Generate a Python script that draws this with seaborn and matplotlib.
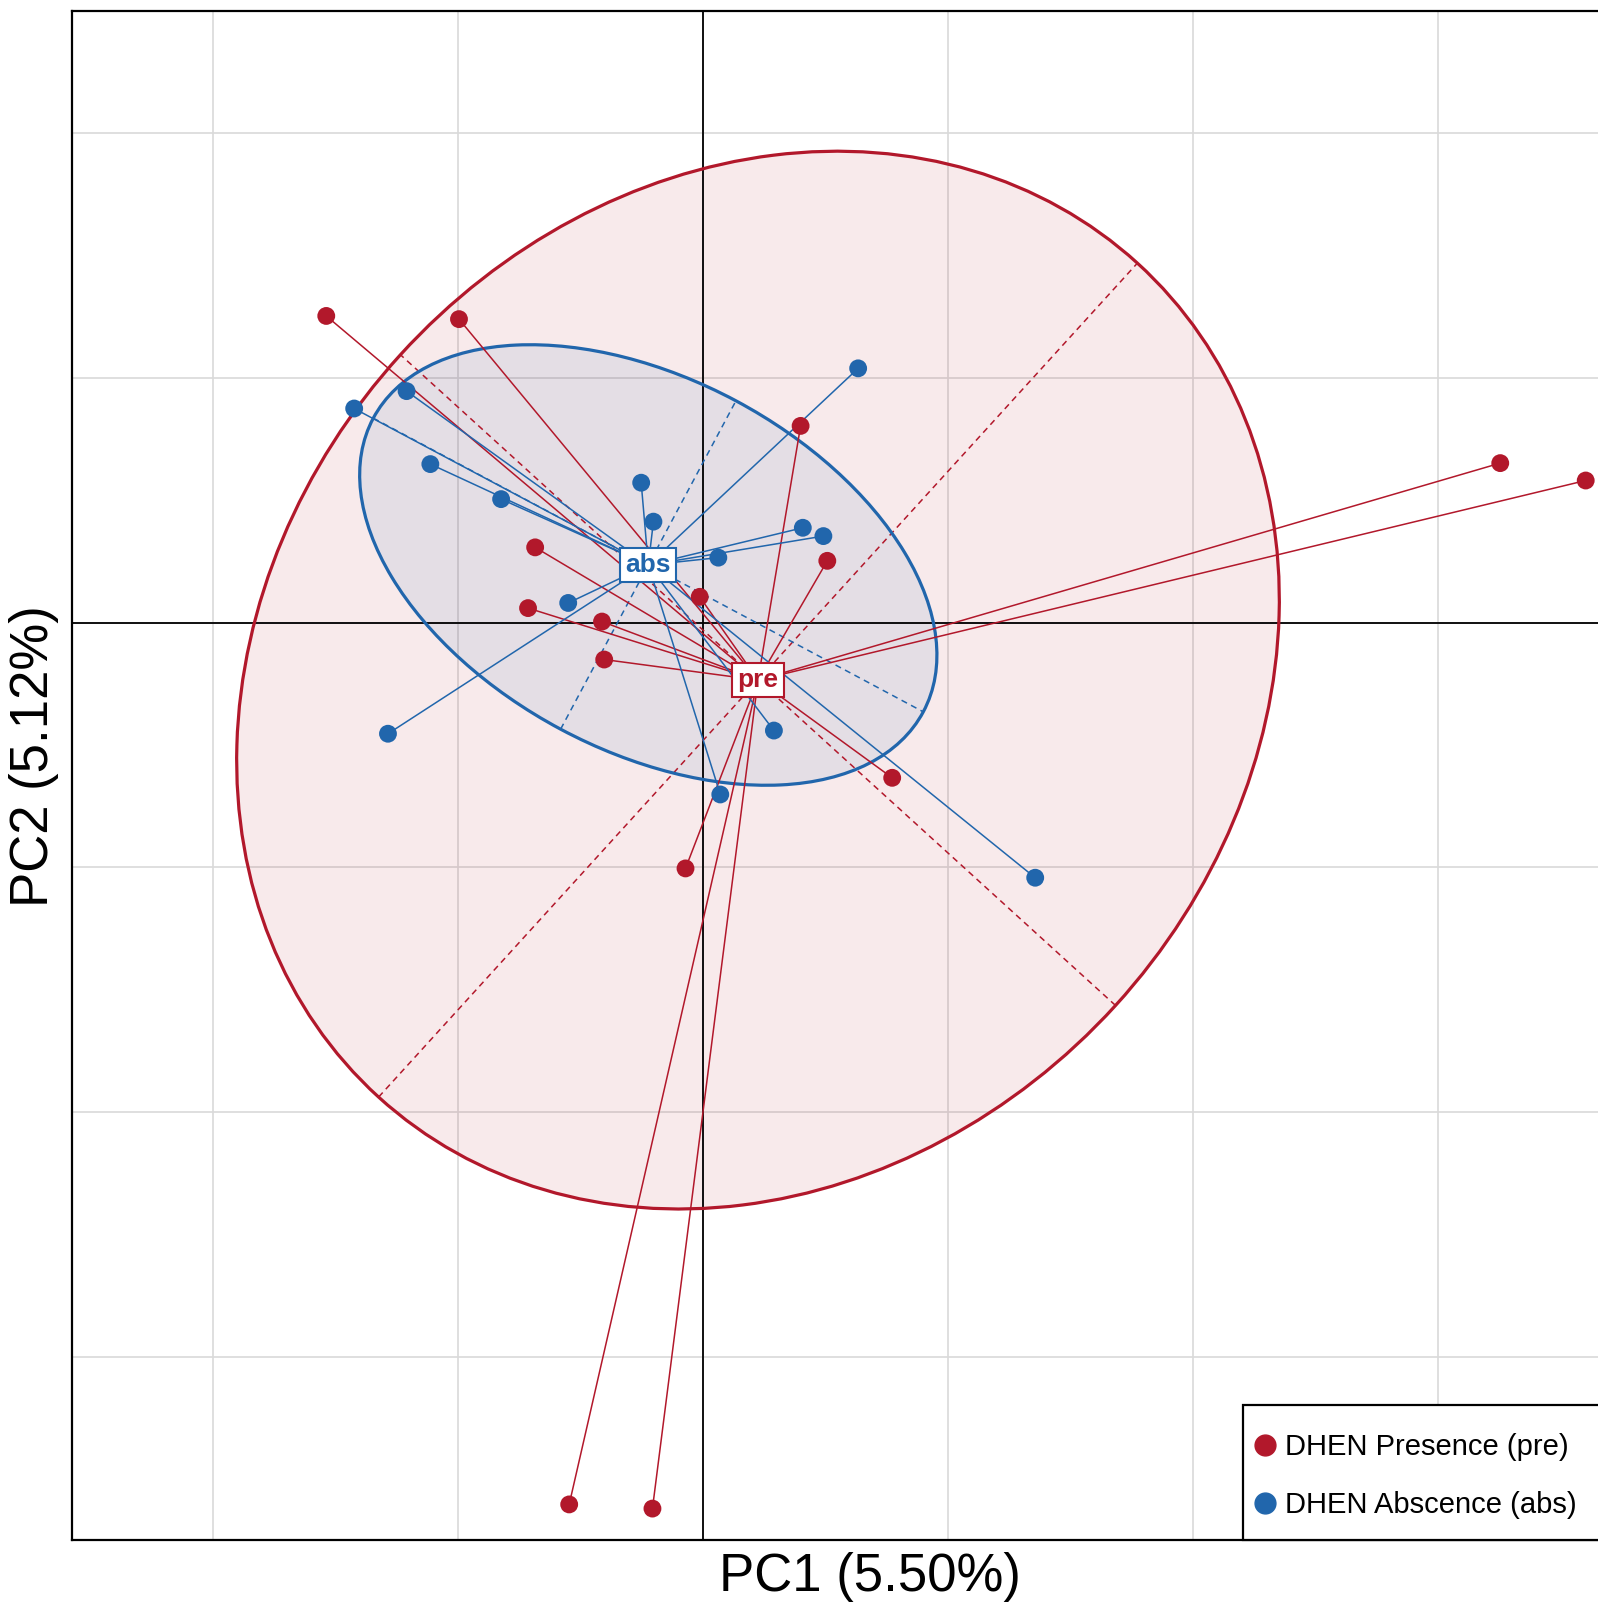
import numpy as np
import pandas as pd
import seaborn as sns
import matplotlib
matplotlib.use("Agg")
import matplotlib.pyplot as plt
from matplotlib.patches import Ellipse, Rectangle
from matplotlib.lines import Line2D

# PCA scores (grid step = 1 unit)
pre_pc1 = [-1.538, -0.996, 0.399, 3.256, 3.605, -0.685, 0.508, -0.013, -0.714, -0.412, -0.403, 0.773, -0.071, -0.546, -0.206]
pre_pc2 = [1.252, 1.239, 0.803, 0.651, 0.580, 0.307, 0.252, 0.105, 0.059, 0.004, -0.151, -0.634, -1.004, -3.601, -3.618]
abs_pc1 = [0.634, -1.210, -1.424, -1.113, -0.824, -0.252, -0.202, 0.408, 0.492, 0.063, -0.550, -1.286, 0.290, 0.071, 1.357]
abs_pc2 = [1.038, 0.945, 0.874, 0.647, 0.504, 0.571, 0.412, 0.387, 0.353, 0.265, 0.080, -0.454, -0.441, -0.702, -1.042]

groups = ["pre", "abs"]
group_labels = ["DHEN Presence (pre)", "DHEN Abscence (abs)"]
centroids = {"pre": (0.225, -0.235), "abs": (-0.223, 0.235)}
# ellipse: semi-major, semi-minor, angle (deg)
ellipses = {"pre": (2.302, 1.974, 47.7), "abs": (1.273, 0.760, -28.1)}
colores = {"pre": "#B2182B", "abs": "#2166AC"}

df = pd.DataFrame({
    "PC1": pre_pc1 + abs_pc1,
    "PC2": pre_pc2 + abs_pc2,
    "group": ["pre"] * len(pre_pc1) + ["abs"] * len(abs_pc1),
})

sns.set_theme(style="white")
plt.rcParams["font.family"] = ["Liberation Sans", "DejaVu Sans"]
plt.rcParams["text.color"] = "black"
plt.rcParams["axes.labelcolor"] = "black"

fig = plt.figure(figsize=(15.98, 16.13), dpi=100)
ax = fig.add_axes([0.0451, 0.0450, 0.9987, 0.9480])

# elipses (fill first, then edges + dashed axes)
for g in groups:
    cx, cy = centroids[g]
    a, b, ang = ellipses[g]
    ax.add_patch(Ellipse((cx, cy), 2 * a, 2 * b, angle=ang, facecolor=colores[g],
                         alpha=0.09, edgecolor="none", zorder=1))
for g in groups:
    cx, cy = centroids[g]
    a, b, ang = ellipses[g]
    ax.add_patch(Ellipse((cx, cy), 2 * a, 2 * b, angle=ang, facecolor="none",
                         edgecolor=colores[g], lw=2.3, zorder=3))
    t = np.deg2rad(ang)
    ax.plot([cx - a * np.cos(t), cx + a * np.cos(t)], [cy - a * np.sin(t), cy + a * np.sin(t)],
            color=colores[g], lw=1.1, ls=(0, (4, 3)), zorder=3)
    ax.plot([cx + b * np.sin(t), cx - b * np.sin(t)], [cy - b * np.cos(t), cy + b * np.cos(t)],
            color=colores[g], lw=1.1, ls=(0, (4, 3)), zorder=3)

# lineas al centroide
for _, row in df.iterrows():
    cx, cy = centroids[row["group"]]
    ax.plot([row["PC1"], cx], [row["PC2"], cy], color=colores[row["group"]], lw=1.1, zorder=4)

sns.scatterplot(data=df, x="PC1", y="PC2", hue="group", palette=colores, s=165,
                edgecolor="none", legend=False, ax=ax, zorder=5)

for g in groups:
    cx, cy = centroids[g]
    ax.text(cx, cy, g, color=colores[g], fontsize=19, fontweight="bold", ha="center", va="center",
            zorder=6, bbox=dict(boxstyle="square,pad=0.2", facecolor="white", edgecolor=colores[g], lw=1.5))

ax.axhline(0, color="black", lw=1.3, zorder=2)
ax.axvline(0, color="black", lw=1.3, zorder=2)

ax.set_xlim(-2.576, 3.941)
ax.set_ylim(-3.748, 2.496)
ax.set_xticks([-2, -1, 0, 1, 2, 3])
ax.set_yticks([-3, -2, -1, 0, 1, 2])
ax.tick_params(length=0, labelbottom=False, labelleft=False)
ax.grid(True, color="#D9D9D9", lw=1.2, zorder=0)
ax.set_axisbelow(True)
for sp in ax.spines.values():
    sp.set_color("black")
    sp.set_linewidth(1.6)

ax.set_xlabel("PC1 (5.50%)", fontsize=38, va="center")
ax.set_ylabel("PC2 (5.12%)", fontsize=38, va="center")
ax.xaxis.set_label_coords(0.5, -0.024)
ax.yaxis.set_label_coords(-0.0238, 0.513)

# legend box (drawn in figure pixels, runs off the right edge like the original)
W, H = 1598, 1613
fig.patches.append(Rectangle((1243 / W, 73 / H), 400 / W, 135 / H, transform=fig.transFigure,
                             facecolor="white", edgecolor="black", lw=1.6, zorder=10))
handles = [Line2D([], [], ls="none", marker="o", markersize=15, color=colores[g]) for g in groups]
leg = fig.legend(handles, group_labels, loc="center left", bbox_to_anchor=(1256 / W, (H - 1476) / H),
                 fontsize=21, frameon=False, handlelength=0.6, handletextpad=0.4,
                 labelspacing=1.03, borderpad=0, borderaxespad=0)
leg.set_zorder(11)

fig.savefig("out.png", dpi=100)
